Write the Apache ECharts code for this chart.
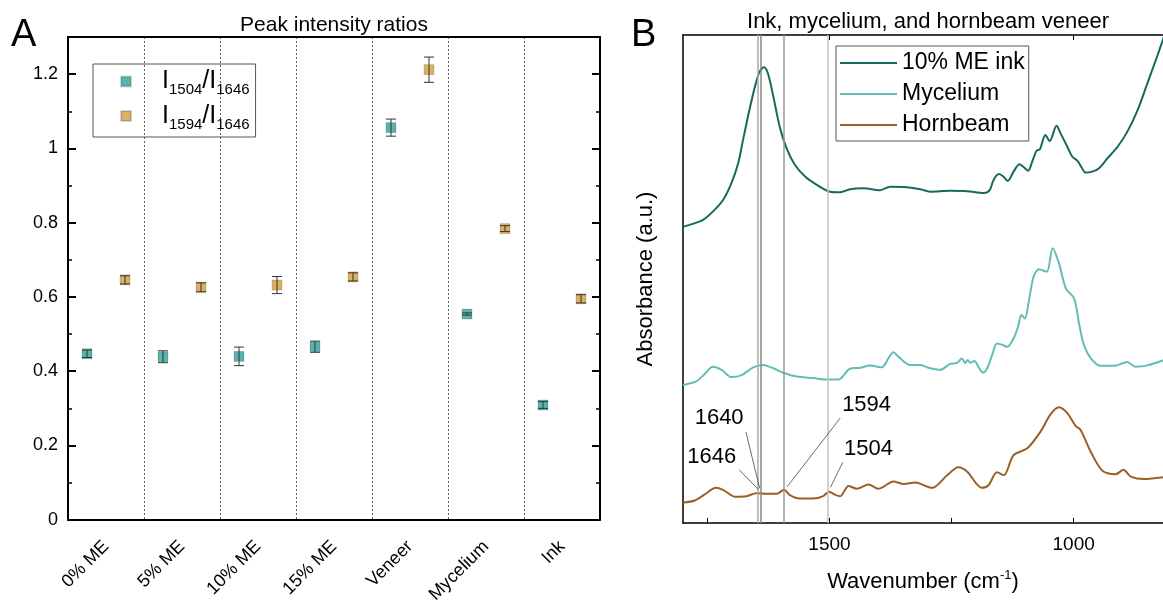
<!DOCTYPE html>
<html>
<head>
<meta charset="utf-8">
<script src="https://cdn.jsdelivr.net/npm/echarts@6/dist/echarts.min.js"></script>
<style>
  html, body { margin: 0; padding: 0; background: #fff; }
  #chart { width: 1163px; height: 606px; }
</style>
</head>
<body>
<div id="chart"></div>
<script>
// ---- panel A: peak intensity ratios ----
const categories = ['0% ME', '5% ME', '10% ME', '15% ME', 'Veneer', 'Mycelium', 'Ink'];
const ratio1504 = [0.447, 0.439, 0.440, 0.466, 1.056, 0.554, 0.309];
const err1504 = [0.010, 0.016, 0.025, 0.015, 0.023, 0.003, 0.009];
const ratio1594 = [0.646, 0.626, 0.632, 0.654, 1.212, 0.784, 0.595];
const err1594 = [0.011, 0.012, 0.023, 0.011, 0.034, 0.008, 0.011];
const yTicksA = [0, 0.2, 0.4, 0.6, 0.8, 1, 1.2];
const yMinorA = [0.1, 0.3, 0.5, 0.7, 0.9, 1.1];

// ---- panel B: FTIR spectra ----
const inkWn = [1800, 1780, 1759, 1739, 1718, 1701, 1687, 1677, 1667, 1656, 1650, 1643, 1634, 1626, 1615, 1602, 1588, 1571, 1550, 1526, 1499, 1478, 1458, 1431, 1396, 1376, 1342, 1314, 1294, 1253, 1218, 1184, 1172, 1164, 1153, 1144, 1135, 1123, 1111, 1102, 1093, 1085, 1076, 1069, 1058, 1049, 1035, 1027, 1013, 1003, 992, 984, 975, 962, 948, 931, 910, 890, 869, 849, 828, 815];
const inkAbs = [0.607, 0.613, 0.621, 0.638, 0.662, 0.696, 0.737, 0.785, 0.833, 0.881, 0.904, 0.925, 0.934, 0.921, 0.874, 0.812, 0.768, 0.734, 0.710, 0.693, 0.679, 0.678, 0.684, 0.686, 0.682, 0.689, 0.688, 0.684, 0.679, 0.681, 0.680, 0.676, 0.682, 0.703, 0.715, 0.710, 0.701, 0.720, 0.735, 0.729, 0.722, 0.740, 0.763, 0.766, 0.795, 0.783, 0.814, 0.799, 0.771, 0.751, 0.742, 0.729, 0.718, 0.720, 0.727, 0.747, 0.771, 0.802, 0.846, 0.901, 0.959, 0.997];
const mycWn = [1800, 1773, 1756, 1739, 1721, 1701, 1680, 1656, 1636, 1615, 1595, 1567, 1533, 1506, 1482, 1458, 1437, 1417, 1393, 1379, 1369, 1359, 1335, 1314, 1300, 1273, 1253, 1239, 1229, 1222, 1217, 1212, 1203, 1195, 1186, 1177, 1167, 1157, 1146, 1136, 1123, 1114, 1107, 1100, 1092, 1082, 1071, 1055, 1043, 1030, 1016, 999, 989, 979, 965, 945, 917, 890, 873, 849, 815];
const mycAbs = [0.283, 0.290, 0.305, 0.320, 0.314, 0.299, 0.303, 0.319, 0.324, 0.317, 0.308, 0.300, 0.297, 0.294, 0.294, 0.316, 0.318, 0.323, 0.319, 0.338, 0.350, 0.341, 0.324, 0.324, 0.319, 0.314, 0.326, 0.328, 0.337, 0.328, 0.334, 0.328, 0.332, 0.320, 0.308, 0.317, 0.344, 0.368, 0.365, 0.361, 0.378, 0.402, 0.426, 0.419, 0.453, 0.505, 0.520, 0.515, 0.563, 0.532, 0.481, 0.460, 0.409, 0.365, 0.338, 0.322, 0.322, 0.330, 0.320, 0.323, 0.334];
const hbWn = [1800, 1776, 1752, 1733, 1718, 1694, 1670, 1650, 1629, 1608, 1593, 1581, 1561, 1533, 1513, 1501, 1487, 1478, 1461, 1444, 1420, 1400, 1369, 1348, 1324, 1290, 1259, 1236, 1218, 1188, 1174, 1157, 1143, 1123, 1095, 1068, 1047, 1030, 1013, 996, 986, 965, 941, 914, 898, 883, 856, 815];
const hbAbs = [0.042, 0.046, 0.061, 0.072, 0.068, 0.054, 0.055, 0.061, 0.060, 0.060, 0.068, 0.057, 0.050, 0.050, 0.055, 0.064, 0.057, 0.055, 0.076, 0.070, 0.079, 0.070, 0.085, 0.080, 0.083, 0.072, 0.098, 0.114, 0.105, 0.072, 0.078, 0.104, 0.098, 0.139, 0.153, 0.187, 0.223, 0.237, 0.225, 0.199, 0.191, 0.146, 0.107, 0.100, 0.109, 0.095, 0.090, 0.094];
const peakWn = [1646, 1640, 1594, 1504];
const xLabelsB = [1500, 1000];
const xTicksB = [1750, 1500, 1250, 1000];

const FONT = '"Liberation Sans", Arial, Helvetica, sans-serif';
const TEAL = '#5ab4ad', GOLD = '#dab261';
const C_INK = '#17695f', C_MYC = '#62bdb3', C_HB = '#9b5f25';

const name1504 = 'I1504/I1646';
const name1594 = 'I1594/I1646';

const pairs = (xs, ys) => xs.map((x, i) => [x, ys[i]]);

const errBars = [];
ratio1504.forEach((v, i) => errBars.push([i + 0.25, v - err1504[i], v + err1504[i]]));
ratio1594.forEach((v, i) => errBars.push([i + 0.75, v - err1594[i], v + err1594[i]]));

const chart = echarts.init(document.getElementById('chart'), null, { renderer: 'canvas' });

const blackLine = (w) => ({ show: true, onZero: false, lineStyle: { color: '#000', width: w } });

const option = {
  animation: false,
  textStyle: { fontFamily: FONT, color: '#000' },
  title: [
    { text: 'Peak intensity ratios', left: 334, top: 15, textAlign: 'center', padding: 0,
      textStyle: { fontFamily: FONT, fontSize: 21, fontWeight: 'normal', color: '#000' } },
    { text: 'Ink, mycelium, and hornbeam veneer', left: 928, top: 11, textAlign: 'center', padding: 0,
      textStyle: { fontFamily: FONT, fontSize: 22, fontWeight: 'normal', color: '#000' } },
    { text: 'A', left: 11, top: 17, padding: 0,
      textStyle: { fontFamily: FONT, fontSize: 38, fontWeight: 'normal', color: '#000' } },
    { text: 'B', left: 631, top: 17, padding: 0,
      textStyle: { fontFamily: FONT, fontSize: 38, fontWeight: 'normal', color: '#000' } }
  ],
  legend: [
    {
      data: [name1504, name1594],
      left: 93, top: 64, orient: 'vertical',
      icon: 'rect', itemWidth: 10, itemHeight: 10, itemGap: 6,
      padding: [5, 6, 5, 27],
      borderColor: '#555', borderWidth: 1,
      formatter: (n) => {
        const p = n.split('/');
        return '{m|I}{s|' + p[0].slice(1) + '}{m|/I}{s|' + p[1].slice(1) + '}';
      },
      textStyle: {
        padding: [0, 0, 0, 26],
        rich: {
          m: { fontFamily: FONT, fontSize: 25, lineHeight: 32, color: '#000' },
          s: { fontFamily: FONT, fontSize: 15, lineHeight: 15, verticalAlign: 'bottom', color: '#000' }
        }
      }
    },
    {
      data: ['10% ME ink', 'Mycelium', 'Hornbeam'],
      left: 836, top: 46, orient: 'vertical',
      icon: 'rect', itemWidth: 57, itemHeight: 2, itemGap: 7,
      padding: [5, 4, 4, 4],
      borderColor: '#555', borderWidth: 1,
      textStyle: { fontFamily: FONT, fontSize: 23, lineHeight: 24, color: '#000' }
    }
  ],
  grid: [
    { left: 68, top: 37, width: 532, height: 486 },
    { left: 683, top: 35, right: 0, bottom: 83 }
  ],
  xAxis: [
    { // 0: categories of panel A
      type: 'category', gridIndex: 0, position: 'bottom', data: categories, boundaryGap: true,
      axisLine: blackLine(2), axisTick: { show: false },
      axisLabel: { interval: 0, rotate: 45, fontSize: 18, margin: 24, color: '#000', fontFamily: FONT },
      splitLine: { show: true, interval: 0, lineStyle: { type: [2, 2], color: '#333', width: 0.8 } }
    },
    { // 1: hidden position axis for the markers, draws top border
      type: 'value', gridIndex: 0, position: 'top', min: 0, max: 7,
      axisLine: blackLine(2), axisTick: { show: false }, axisLabel: { show: false }, splitLine: { show: false }
    },
    { // 2: wavenumber
      type: 'value', gridIndex: 1, position: 'bottom', inverse: true, min: 817, max: 1800,
      axisLine: blackLine(1.5),
      axisTick: { show: true, inside: true, length: 5, customValues: xTicksB, lineStyle: { color: '#000', width: 1 } },
      axisLabel: { customValues: xLabelsB, formatter: (v) => String(v), fontSize: 19, margin: 12, color: '#000', fontFamily: FONT },
      splitLine: { show: false },
      name: 'Wavenumber (cm{sup|-1})', nameLocation: 'middle', nameGap: 46,
      nameTextStyle: { fontFamily: FONT, fontSize: 22, lineHeight: 26, color: '#000',
        rich: { sup: { fontFamily: FONT, fontSize: 13, lineHeight: 13, verticalAlign: 'top', color: '#000' } } }
    },
    { // 3: top border of panel B
      type: 'value', gridIndex: 1, position: 'top', inverse: true, min: 817, max: 1800,
      axisLine: blackLine(1.5),
      axisTick: { show: true, inside: true, length: 5, customValues: xLabelsB, lineStyle: { color: '#000', width: 1 } },
      axisLabel: { show: false }, splitLine: { show: false }
    }
  ],
  yAxis: [
    { // 0: left, labels + major ticks
      type: 'value', gridIndex: 0, position: 'left', min: 0, max: 1.3,
      axisLine: blackLine(2),
      axisTick: { show: true, inside: true, length: 8, customValues: yTicksA, lineStyle: { color: '#000', width: 2 } },
      axisLabel: { customValues: yTicksA, fontSize: 18, margin: 10, color: '#000', fontFamily: FONT },
      splitLine: { show: false }
    },
    { // 1: right border, major ticks
      type: 'value', gridIndex: 0, position: 'right', min: 0, max: 1.3,
      axisLine: blackLine(2),
      axisTick: { show: true, inside: true, length: 8, customValues: yTicksA, lineStyle: { color: '#000', width: 2 } },
      axisLabel: { show: false }, splitLine: { show: false }
    },
    { // 2: left minor ticks
      type: 'value', gridIndex: 0, position: 'left', min: 0, max: 1.3,
      axisLine: { show: false },
      axisTick: { show: true, inside: true, length: 4, customValues: yMinorA, lineStyle: { color: '#000', width: 1.5 } },
      axisLabel: { show: false }, splitLine: { show: false }
    },
    { // 3: right minor ticks
      type: 'value', gridIndex: 0, position: 'right', min: 0, max: 1.3,
      axisLine: { show: false },
      axisTick: { show: true, inside: true, length: 4, customValues: yMinorA, lineStyle: { color: '#000', width: 1.5 } },
      axisLabel: { show: false }, splitLine: { show: false }
    },
    { // 4: absorbance
      type: 'value', gridIndex: 1, position: 'left', min: 0, max: 1,
      axisLine: blackLine(1.5), axisTick: { show: false }, axisLabel: { show: false }, splitLine: { show: false },
      name: 'Absorbance (a.u.)', nameLocation: 'middle', nameGap: 26,
      nameTextStyle: { fontFamily: FONT, fontSize: 22, color: '#000' }
    }
  ],
  series: [
    {
      name: name1504, type: 'scatter', xAxisIndex: 1, yAxisIndex: 0, z: 2,
      symbol: 'rect', symbolSize: 10,
      itemStyle: { color: TEAL, borderColor: 'rgba(0,0,0,0.15)', borderWidth: 1, opacity: 1 },
      data: ratio1504.map((v, i) => [i + 0.25, v])
    },
    {
      name: name1594, type: 'scatter', xAxisIndex: 1, yAxisIndex: 0, z: 2,
      symbol: 'rect', symbolSize: 10,
      itemStyle: { color: GOLD, borderColor: 'rgba(0,0,0,0.15)', borderWidth: 1, opacity: 1 },
      data: ratio1594.map((v, i) => [i + 0.75, v])
    },
    {
      name: 'errors', type: 'custom', xAxisIndex: 1, yAxisIndex: 0, z: 3, silent: true,
      encode: { x: 0, y: [1, 2] },
      data: errBars,
      renderItem: (params, api) => {
        const x = api.value(0);
        const top = api.coord([x, api.value(2)]);
        const bot = api.coord([x, api.value(1)]);
        const w = 5;
        const st = { stroke: '#333', lineWidth: 1 };
        return {
          type: 'group',
          children: [
            { type: 'line', shape: { x1: top[0], y1: top[1], x2: bot[0], y2: bot[1] }, style: st },
            { type: 'line', shape: { x1: top[0] - w, y1: top[1], x2: top[0] + w, y2: top[1] }, style: st },
            { type: 'line', shape: { x1: bot[0] - w, y1: bot[1], x2: bot[0] + w, y2: bot[1] }, style: st }
          ]
        };
      }
    },
    {
      name: 'peaks', type: 'line', xAxisIndex: 2, yAxisIndex: 4, z: 1, data: [], silent: true,
      markLine: {
        silent: true, symbol: ['none', 'none'], animation: false,
        label: { show: false },
        data: [
          { xAxis: peakWn[0], lineStyle: { color: '#aaaaaa', width: 1.5, type: 'solid' } },
          { xAxis: peakWn[1], lineStyle: { color: '#888888', width: 1.5, type: 'solid' } },
          { xAxis: peakWn[2], lineStyle: { color: '#999999', width: 1.5, type: 'solid' } },
          { xAxis: peakWn[3], lineStyle: { color: '#c2c2c2', width: 1.5, type: 'solid' } },
          [{ coord: [1685, 0.109] }, { coord: [peakWn[0], 0.069] }],
          [{ coord: [1671, 0.186] }, { coord: [peakWn[1] + 3, 0.071] }],
          [{ coord: [1478, 0.215] }, { coord: [peakWn[2] - 7, 0.074] }],
          [{ coord: [1473, 0.124] }, { coord: [peakWn[3] - 6, 0.073] }]
        ].map(d => Array.isArray(d)
          ? d.map(p => Object.assign(p, { lineStyle: { color: '#444', width: 0.8, type: 'solid' } }))
          : d)
      },
      markPoint: {
        silent: true, symbol: 'circle', symbolSize: 0,
        label: { show: true, position: 'inside', fontSize: 22, color: '#000', fontFamily: FONT, formatter: '{b}' },
        data: [
          { name: String(peakWn[1]), coord: [1726, 0.216] },
          { name: String(peakWn[0]), coord: [1741, 0.135] },
          { name: String(peakWn[2]), coord: [1424, 0.242] },
          { name: String(peakWn[3]), coord: [1420, 0.152] }
        ]
      }
    },
    {
      name: '10% ME ink', type: 'line', xAxisIndex: 2, yAxisIndex: 4, z: 2,
      symbol: 'none', smooth: 0.3, color: C_INK,
      lineStyle: { color: C_INK, width: 2 },
      data: pairs(inkWn, inkAbs)
    },
    {
      name: 'Mycelium', type: 'line', xAxisIndex: 2, yAxisIndex: 4, z: 2,
      symbol: 'none', smooth: 0.3, color: C_MYC,
      lineStyle: { color: C_MYC, width: 2 },
      data: pairs(mycWn, mycAbs)
    },
    {
      name: 'Hornbeam', type: 'line', xAxisIndex: 2, yAxisIndex: 4, z: 2,
      symbol: 'none', smooth: 0.3, color: C_HB,
      lineStyle: { color: C_HB, width: 2 },
      data: pairs(hbWn, hbAbs)
    }
  ]
};

chart.setOption(option);
window.addEventListener('resize', () => chart.resize());
</script>
</body>
</html>
